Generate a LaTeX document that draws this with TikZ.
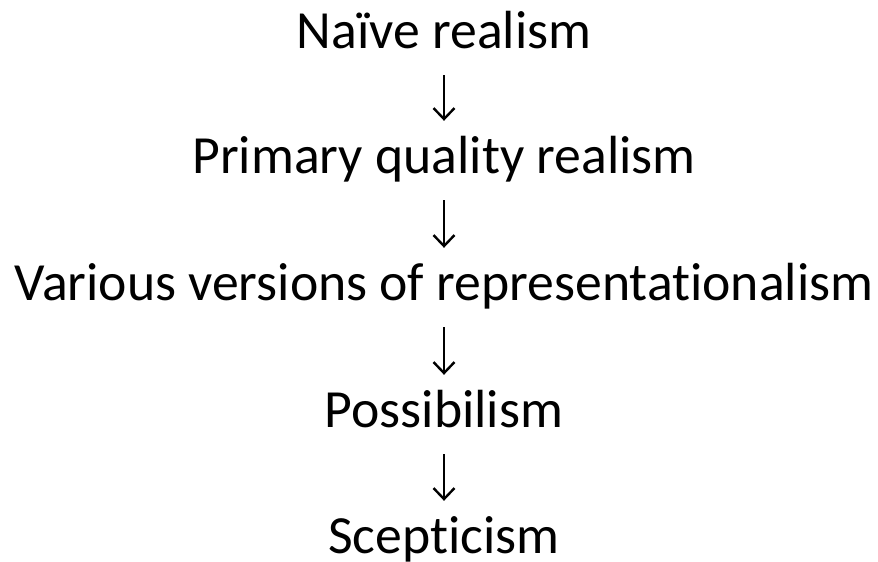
\documentclass[tikz,border=0pt]{standalone}
\usepackage{fontspec}
\setmainfont{Carlito}[Ligatures=NoCommon]
\usetikzlibrary{arrows.meta}
\begin{document}
\begin{tikzpicture}[x=1pt,y=1pt,
  lbl/.style={inner sep=0pt, anchor=center, text height=36pt, text depth=12pt,
              font=\fontsize{53.7}{58}\selectfont},
  arr/.style={line width=2.4pt, -{Straight Barb[length=11pt,width=21pt,line width=2.4pt]},
              shorten <=15pt, shorten >=16pt}]
\useasboundingbox (0,0) rectangle (878,-562);
\node[lbl] (a) at (444,-36) {Naïve realism};
\node[lbl] (b) at (444,-161) {Primary quality realism};
\node[lbl] (c) at (444,-288) {Various versions of representationalism};
\node[lbl] (d) at (444,-415) {Possibilism};
\node[lbl] (e) at (444,-541) {Scepticism};
\draw[arr] (a) -- (b);
\draw[arr] (b) -- (c);
\draw[arr] (c) -- (d);
\draw[arr] (d) -- (e);
\end{tikzpicture}
\end{document}
